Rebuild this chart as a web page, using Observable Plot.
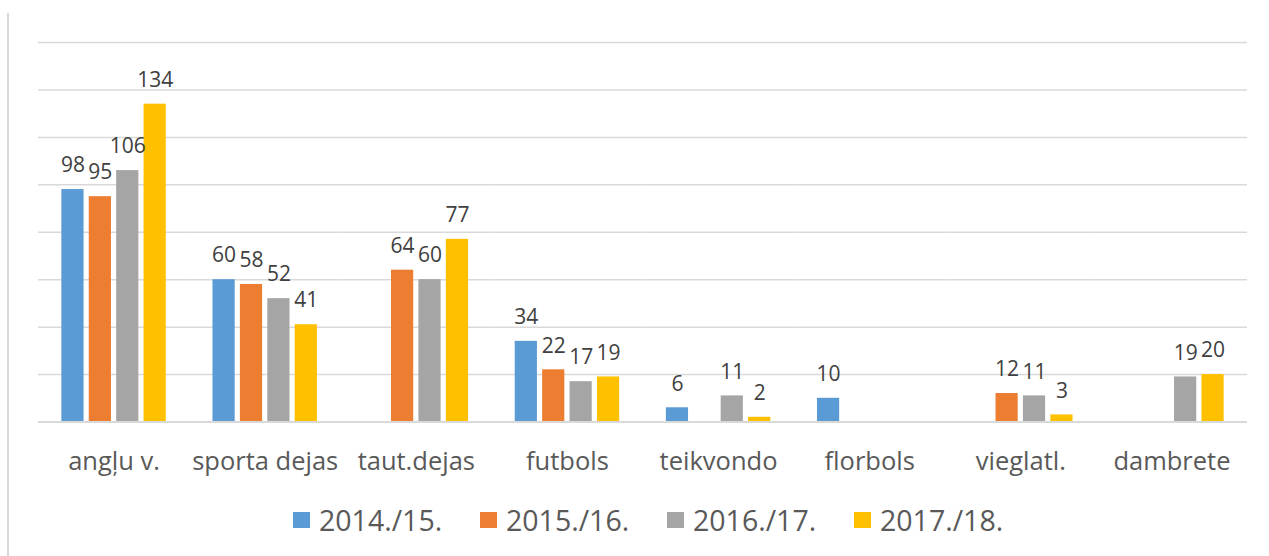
<!DOCTYPE html>
<html>
<head>
<meta charset="utf-8">
<script src="https://cdn.jsdelivr.net/npm/d3@7"></script>
<script src="https://cdn.jsdelivr.net/npm/@observablehq/plot@0.6"></script>
<style>
  html, body { margin: 0; padding: 0; background: #fff; }
  #wrap { position: relative; width: 1269px; height: 556px; overflow: hidden; background: #fff; }
  #frame { position: absolute; left: 7px; top: 13px; width: 2px; height: 560px; background: #d9d9d9; }
  #chart { position: absolute; left: 0; top: 0; }
  #legend { position: absolute; left: 293px; top: 506px; display: flex; font-family: 'Open Sans', sans-serif; font-size: 28.5px; line-height: 28px; color: #595959; }
  .item { display: flex; align-items: center; width: 187px; flex: none; }
  .sw { width: 17px; height: 16px; margin-right: 9px; flex: none; }
</style>
</head>
<body>
<div id="wrap">
  <div id="frame"></div>
  <div id="chart"></div>
  <div id="legend"></div>
</div>
<script>
const categories = ["angļu v.", "sporta dejas", "taut.dejas", "futbols", "teikvondo", "florbols", "vieglatl.", "dambrete"];
const seasons = ["2014./15.", "2015./16.", "2016./17.", "2017./18."];
const colors = ["#5b9bd5", "#ed7d31", "#a5a5a5", "#ffc000"];
const s2014 = [98, 60, null, 34, 6, 10, null, null];
const s2015 = [95, 58, 64, 22, null, null, 12, null];
const s2016 = [106, 52, 60, 17, 11, null, 11, 19];
const s2017 = [134, 41, 77, 19, 2, null, 3, 20];
const gridValues = [20, 40, 60, 80, 100, 120, 140, 160];

const seriesValues = [s2014, s2015, s2016, s2017];
const rows = [];
categories.forEach((cat, i) => {
  seasons.forEach((season, j) => {
    const v = seriesValues[j][i];
    if (v != null) rows.push({cat, season, value: v});
  });
});

const chart = Plot.plot({
  width: 1269,
  height: 490,
  marginLeft: 38,
  marginRight: 22,
  marginTop: 42,
  marginBottom: 68.5,
  fx: {domain: categories, padding: 0, round: false, label: null},
  x: {domain: seasons, paddingInner: 0.19, paddingOuter: 0.852, round: false, axis: null},
  y: {domain: [0, 160], axis: null},
  color: {domain: seasons, range: colors},
  style: {fontFamily: "'Open Sans', sans-serif", background: "transparent", overflow: "visible"},
  marks: [
    Plot.ruleY(gridValues, {stroke: "#d9d9d9", strokeWidth: 1.5}),
    Plot.barY(rows, {fx: "cat", x: "season", y: "value", fill: "season"}),
    Plot.text(rows, {fx: "cat", x: "season", y: "value", text: d => String(d.value), dy: -24, fontSize: 21, fill: "#404040"}),
    Plot.ruleY([0], {stroke: "#d9d9d9", strokeWidth: 1.8}),
    Plot.axisFx({anchor: "bottom", tickSize: 0, tickPadding: 29.7, fontSize: 25.5, color: "#595959", label: null})
  ]
});
document.getElementById("chart").appendChild(chart);

const legend = document.getElementById("legend");
seasons.forEach((s, i) => {
  const item = document.createElement("div");
  item.className = "item";
  const sw = document.createElement("div");
  sw.className = "sw";
  sw.style.background = colors[i];
  const t = document.createElement("span");
  t.textContent = s;
  item.appendChild(sw);
  item.appendChild(t);
  legend.appendChild(item);
});
</script>
</body>
</html>
